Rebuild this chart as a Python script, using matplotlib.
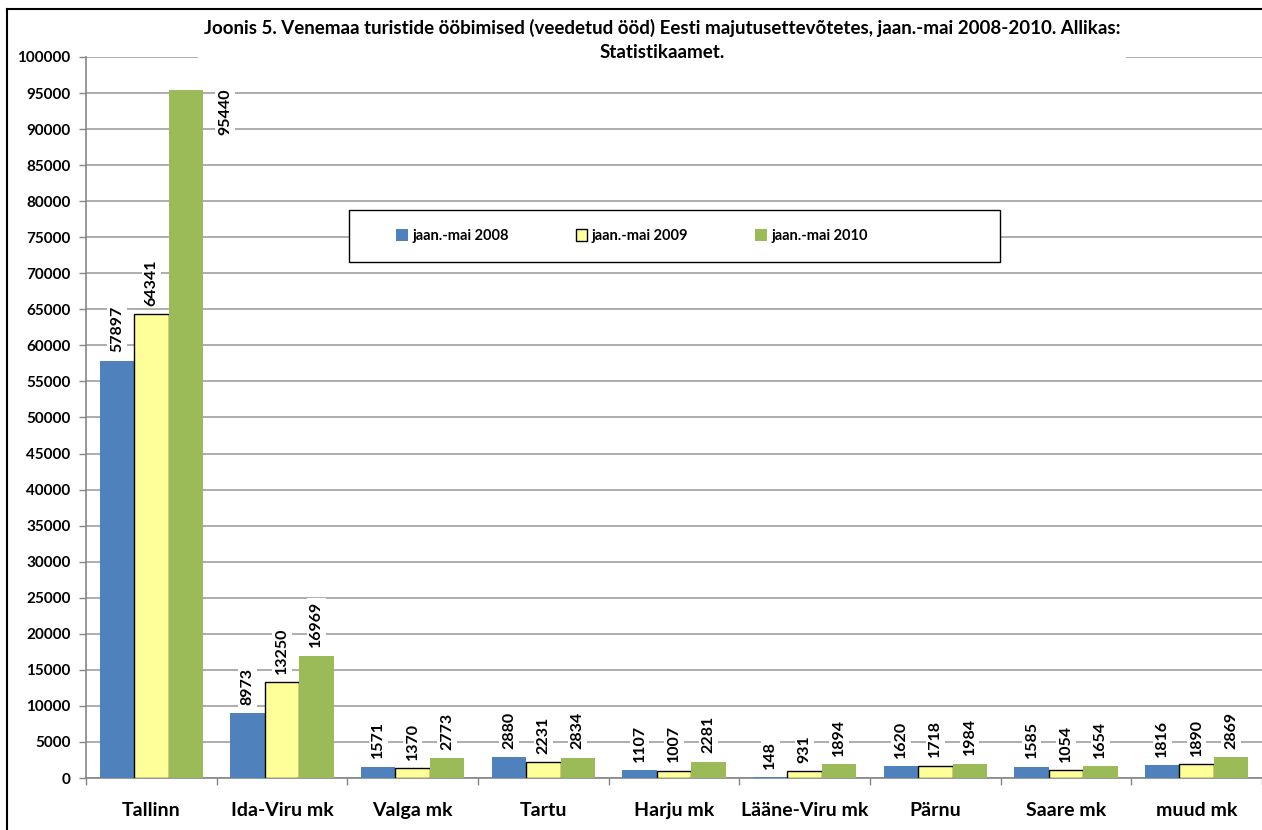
import numpy as np
import matplotlib
matplotlib.use('Agg')
import matplotlib.pyplot as plt
from matplotlib.lines import Line2D
from matplotlib.patches import Rectangle

plt.rcParams['font.family'] = ['Lato', 'DejaVu Sans']

categories = ['Tallinn', 'Ida-Viru mk', 'Valga mk', 'Tartu', 'Harju mk',
              'Lääne-Viru mk', 'Pärnu', 'Saare mk', 'muud mk']
series_names = ['jaan.-mai 2008', 'jaan.-mai 2009', 'jaan.-mai 2010']
v2008 = [57897, 8973, 1571, 2880, 1107, 148, 1620, 1585, 1816]
v2009 = [64341, 13250, 1370, 2231, 1007, 931, 1718, 1054, 1890]
v2010 = [95440, 16969, 2773, 2834, 2281, 1894, 1984, 1654, 2869]

title = ('Joonis 5. Venemaa turistide ööbimised (veedetud ööd) Eesti majutusettevõtetes, '
         'jaan.-mai 2008-2010. Allikas:\nStatistikaamet.')

colors = ['#4F81BD', '#FFFF99', '#9BBB59']
edges = ['#4F81BD', 'black', '#9BBB59']

fig = plt.figure(figsize=(12.62, 8.30), dpi=100)
ax = fig.add_axes([86/1262, 52/830, 1176/1262, 721/830])

x = np.arange(len(categories))
w = 0.263
ymax = 100000
for i, vals in enumerate([v2008, v2009, v2010]):
    pos = x + (i - 1) * w
    ax.bar(pos, vals, w, color=colors[i], edgecolor=edges[i],
           linewidth=1.0 if i == 1 else 0.0, label=series_names[i], zorder=3)
    for p, v in zip(pos, vals):
        if v > ymax * 0.9:
            # no room above, Excel pushes it beside the bar
            ax.annotate(str(v), (p + w / 2, v), xytext=(16, 1), textcoords='offset points',
                        rotation=90, ha='center', va='top', fontsize=11.5, fontweight='bold',
                        bbox=dict(facecolor='white', edgecolor='none', pad=2), zorder=4)
        else:
            ax.annotate(str(v), (p, v), xytext=(0, 6), textcoords='offset points',
                        rotation=90, ha='center', va='bottom', fontsize=11.5, fontweight='bold',
                        bbox=dict(facecolor='white', edgecolor='none', pad=2), zorder=4)

ax.set_ylim(0, ymax)
ax.set_xlim(-0.5, len(categories) - 0.5 - 0.07)
ax.set_yticks(np.arange(0, ymax + 1, 5000))
ax.set_yticklabels([str(t) for t in range(0, ymax + 1, 5000)], fontsize=11, fontweight='bold')
ax.yaxis.grid(True, color='#A0A0A0', linewidth=1.2, zorder=0)
ax.set_axisbelow(True)

ax.set_xticks(x)
ax.set_xticklabels(categories, fontsize=14, fontweight='bold')
ax.set_xticks(np.arange(-0.5, len(categories), 1.0), minor=True)
ax.tick_params(axis='x', which='major', length=0, pad=17)
ax.tick_params(axis='x', which='minor', length=5, color='#868686', width=1)
ax.tick_params(axis='y', length=5, color='#868686', width=1, pad=6)

for s in ['top', 'right']:
    ax.spines[s].set_visible(False)
for s in ['left', 'bottom']:
    ax.spines[s].set_color('#868686')
    ax.spines[s].set_linewidth(1.2)

fig.text(662/1262, 1 - 40/830, title, ha='center', va='center', fontsize=13.5,
         fontweight='bold', linespacing=1.5,
         bbox=dict(facecolor='white', edgecolor='none', pad=4), zorder=5)

# legend box
fig.add_artist(Rectangle((349/1262, 1 - 262/830), 651/1262, 52/830, transform=fig.transFigure,
                         facecolor='white', edgecolor='black', linewidth=1.0, zorder=4))
handles, labels = ax.get_legend_handles_labels()
leg = fig.legend(handles, labels, loc='center left', bbox_to_anchor=(396/1262, 1 - 236/830),
                 ncol=3, frameon=False, prop={'weight': 'bold', 'size': 10.5},
                 handlelength=0.8, handleheight=0.8, handletextpad=0.3, borderpad=0,
                 borderaxespad=0, columnspacing=4.6)
leg.set_zorder(6)

# chart area border
fig.add_artist(Line2D([7/1262, 7/1262], [0, 1 - 9/830], transform=fig.transFigure,
                      color='black', linewidth=1.5))
fig.add_artist(Line2D([7/1262, 1], [1 - 9/830, 1 - 9/830], transform=fig.transFigure,
                      color='black', linewidth=1.5))

fig.savefig('out.png', dpi=100)
